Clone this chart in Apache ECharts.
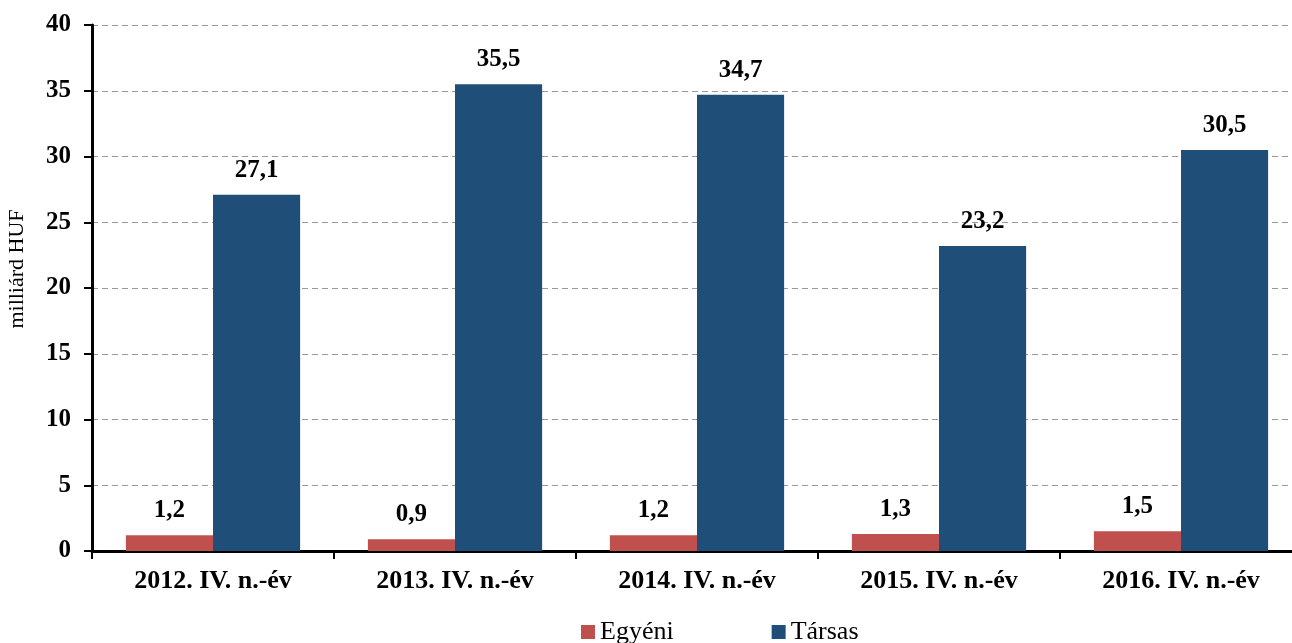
<!DOCTYPE html>
<html>
<head>
<meta charset="utf-8">
<script src="https://cdn.jsdelivr.net/npm/echarts@6/dist/echarts.min.js"></script>
<style>
  html, body { margin: 0; padding: 0; background: #fff; }
  #main { width: 1292px; height: 643px; }
</style>
</head>
<body>
<div id="main"></div>
<script>
var categories = ["2012. IV. n.-év", "2013. IV. n.-év", "2014. IV. n.-év", "2015. IV. n.-év", "2016. IV. n.-év"];
var egyeni = [1.2, 0.9, 1.2, 1.3, 1.5];
var tarsas = [27.1, 35.5, 34.7, 23.2, 30.5];
var seriesNames = ["Egyéni", "Társas"];

var font = "'Liberation Serif', 'Times New Roman', serif";
var myChart = echarts.init(document.getElementById("main"));

function labelFmt(p) {
  return p.value.toFixed(1).replace(".", ",");
}

var option = {
  animation: false,
  textStyle: { fontFamily: font },
  // the source chart is cut off on the right, so the plot runs past the edge
  grid: { left: 92, right: -10, top: 25, bottom: 92, outerBoundsMode: "none" },
  legend: {
    bottom: -7,
    left: 576,
    itemWidth: 14,
    itemHeight: 14,
    itemGap: 98,
    icon: "rect",
    textStyle: { fontFamily: font, fontSize: 26, color: "#000" },
    data: seriesNames
  },
  xAxis: {
    type: "category",
    data: categories,
    axisLine: { lineStyle: { color: "#000", width: 3 } },
    axisTick: { show: true, length: 8, lineStyle: { color: "#000", width: 2 } },
    axisLabel: { fontFamily: font, fontSize: 26, fontWeight: "bold", color: "#000", margin: 17 }
  },
  yAxis: {
    type: "value",
    min: 0,
    max: 40,
    interval: 5,
    name: "milliárd HUF",
    nameLocation: "middle",
    nameGap: 64,
    nameTextStyle: { fontFamily: font, fontSize: 22, color: "#000", padding: [0, 0, 0, 38] },
    axisLine: { show: true, lineStyle: { color: "#000", width: 3 } },
    axisTick: { show: true, length: 8, lineStyle: { color: "#000", width: 2 } },
    axisLabel: { fontFamily: font, fontSize: 25, fontWeight: "bold", color: "#000", margin: 21 },
    splitLine: { lineStyle: { color: "#999", type: [6, 4], width: 1 } }
  },
  series: [
    {
      name: seriesNames[0],
      type: "bar",
      data: egyeni,
      barGap: "0%",
      barCategoryGap: "28%",
      itemStyle: { color: "#C0504D" },
      label: { show: true, position: "top", distance: 12, formatter: labelFmt,
               fontFamily: font, fontSize: 25, fontWeight: "bold", color: "#000" }
    },
    {
      name: seriesNames[1],
      type: "bar",
      data: tarsas,
      barGap: "0%",
      barCategoryGap: "28%",
      itemStyle: { color: "#1F4E79" },
      label: { show: true, position: "top", distance: 12, formatter: labelFmt,
               fontFamily: font, fontSize: 25, fontWeight: "bold", color: "#000" }
    }
  ]
};
myChart.setOption(option);
</script>
</body>
</html>
